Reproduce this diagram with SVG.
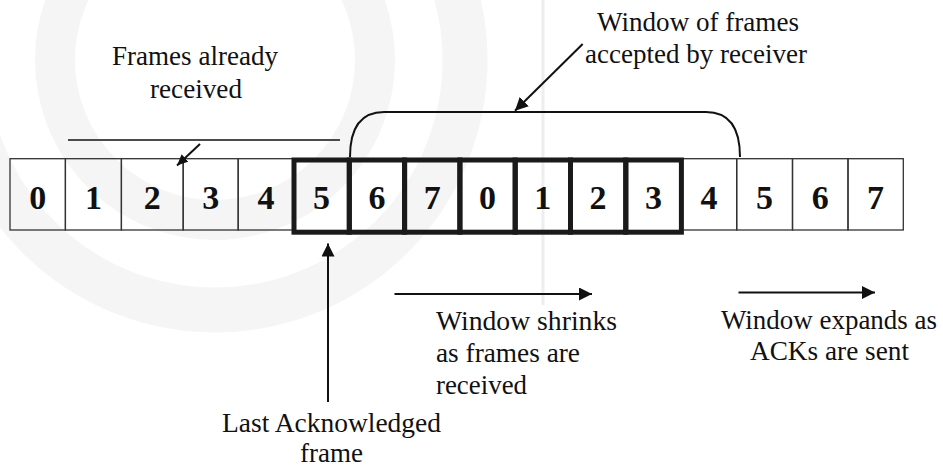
<svg xmlns="http://www.w3.org/2000/svg" width="943" height="467" viewBox="0 0 943 467">
  <defs>
    <marker id="ah" markerUnits="userSpaceOnUse" markerWidth="14" markerHeight="14" refX="13" refY="6.5" orient="auto">
      <path d="M0,0 L13,6.5 L0,13 z" fill="#111"/>
    </marker>
    <marker id="ahs" markerUnits="userSpaceOnUse" markerWidth="12" markerHeight="12" refX="11" refY="5" orient="auto">
      <path d="M0,0 L11,5 L0,10 z" fill="#111"/>
    </marker>
  </defs>
  <style>
    .thin { fill: none; stroke: #333; stroke-width: 1.3; }
    .thick { fill: none; stroke: #1a1a1a; stroke-width: 5; }
    .num { font-family: "Liberation Serif", "DejaVu Serif", serif; font-weight: bold; font-size: 34px; fill: #111; text-anchor: middle; }
    .lbl { font-family: "Liberation Serif", "DejaVu Serif", serif; font-weight: normal; font-size: 27px; fill: #111; }
    .conn { fill: none; stroke: #111; stroke-width: 2; }
    .wmr { fill: none; stroke: #f5f5f5; }
  </style>
  <rect width="943" height="467" fill="#ffffff"/>

  <g id="watermark">
    <circle class="wmr" cx="215" cy="60" r="250" stroke-width="45"/>
    <circle class="wmr" cx="215" cy="60" r="160" stroke-width="40"/>
    <line x1="543" y1="0" x2="543" y2="305" stroke="#eeeeee" stroke-width="3"/>
  </g>

  <g id="frames-received-label">
    <text class="lbl" x="112" y="65" textLength="166" lengthAdjust="spacingAndGlyphs">Frames already</text>
    <text class="lbl" x="150" y="98" textLength="92" lengthAdjust="spacingAndGlyphs">received</text>
  </g>
  <g id="window-label">
    <text class="lbl" x="597" y="31" textLength="202" lengthAdjust="spacingAndGlyphs">Window of frames</text>
    <text class="lbl" x="585" y="63" textLength="222" lengthAdjust="spacingAndGlyphs">accepted by receiver</text>
  </g>
  <g id="shrink-label">
    <text class="lbl" x="436" y="330" textLength="181" lengthAdjust="spacingAndGlyphs">Window shrinks</text>
    <text class="lbl" x="436" y="362" textLength="144" lengthAdjust="spacingAndGlyphs">as frames are</text>
    <text class="lbl" x="436" y="394" textLength="91" lengthAdjust="spacingAndGlyphs">received</text>
  </g>
  <g id="expand-label">
    <text class="lbl" x="721" y="329" textLength="216" lengthAdjust="spacingAndGlyphs">Window expands as</text>
    <text class="lbl" x="750" y="360" textLength="159" lengthAdjust="spacingAndGlyphs">ACKs are sent</text>
  </g>
  <g id="last-ack-label">
    <text class="lbl" x="222" y="431.5" textLength="219" lengthAdjust="spacingAndGlyphs">Last Acknowledged</text>
    <text class="lbl" x="300" y="461.5" textLength="63" lengthAdjust="spacingAndGlyphs">frame</text>
  </g>

  <g id="cell-a0"><rect class="thin" x="10" y="158.7" width="55.4" height="71.3"/><text class="num" x="37.7" y="208.5">0</text></g>
  <g id="cell-a1"><rect class="thin" x="65.4" y="158.7" width="56" height="71.3"/><text class="num" x="93.4" y="208.5">1</text></g>
  <g id="cell-a2"><rect class="thin" x="121.4" y="158.7" width="61.8" height="71.3"/><text class="num" x="152.3" y="208.5">2</text></g>
  <g id="cell-a3"><rect class="thin" x="183.2" y="158.7" width="55" height="71.3"/><text class="num" x="210.7" y="208.5">3</text></g>
  <g id="cell-a4"><rect class="thin" x="238.2" y="158.7" width="55.8" height="71.3"/><text class="num" x="266.1" y="208.5">4</text></g>
  <g id="cell-b4"><rect class="thin" x="681.4" y="158.7" width="55.3" height="71.3"/><text class="num" x="709" y="208.5">4</text></g>
  <g id="cell-b5"><rect class="thin" x="736.7" y="158.7" width="55.8" height="71.3"/><text class="num" x="764.6" y="208.5">5</text></g>
  <g id="cell-b6"><rect class="thin" x="792.5" y="158.7" width="55.5" height="71.3"/><text class="num" x="820.2" y="208.5">6</text></g>
  <g id="cell-b7"><rect class="thin" x="848" y="158.7" width="55.3" height="71.3"/><text class="num" x="875.6" y="208.5">7</text></g>

  <g id="cell-w5"><rect class="thick" x="294" y="160" width="55.3" height="72.2"/><text class="num" x="321.6" y="208.5">5</text></g>
  <g id="cell-w6"><rect class="thick" x="349.3" y="160" width="55.3" height="72.2"/><text class="num" x="376.9" y="208.5">6</text></g>
  <g id="cell-w7"><rect class="thick" x="404.6" y="160" width="55.3" height="72.2"/><text class="num" x="432.2" y="208.5">7</text></g>
  <g id="cell-w0"><rect class="thick" x="459.9" y="160" width="55.3" height="72.2"/><text class="num" x="487.5" y="208.5">0</text></g>
  <g id="cell-w1"><rect class="thick" x="515.2" y="160" width="55.3" height="72.2"/><text class="num" x="542.8" y="208.5">1</text></g>
  <g id="cell-w2"><rect class="thick" x="570.5" y="160" width="55.3" height="72.2"/><text class="num" x="598.1" y="208.5">2</text></g>
  <g id="cell-w3"><rect class="thick" x="625.8" y="160" width="55.6" height="72.2"/><text class="num" x="653.6" y="208.5">3</text></g>

  <g id="connectors">
    <line x1="68" y1="140" x2="340" y2="140" stroke="#111" stroke-width="1.6"/>
    <line class="conn" x1="200" y1="144" x2="177" y2="165.5" stroke-width="1.6" marker-end="url(#ahs)"/>
    <path class="conn" d="M350,157 C350,128 360,112 384,112 L706,112 C730,112 740,128 740,157"/>
    <line class="conn" x1="582.7" y1="44" x2="515" y2="110.7" stroke-width="1.8" marker-end="url(#ah)"/>
    <line class="conn" x1="328" y1="402" x2="328" y2="243.5" marker-end="url(#ah)"/>
    <line class="conn" x1="394.5" y1="294" x2="592" y2="294" marker-end="url(#ah)"/>
    <line class="conn" x1="738.5" y1="292.5" x2="875" y2="292.5" marker-end="url(#ah)"/>
  </g>
</svg>
